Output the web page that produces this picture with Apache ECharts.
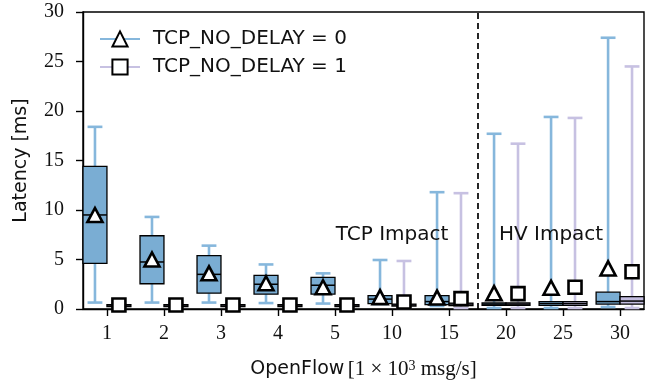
<!DOCTYPE html>
<html>
<head>
<meta charset="utf-8">
<script src="https://cdn.jsdelivr.net/npm/echarts@6/dist/echarts.min.js"></script>
<style>
  html, body { margin: 0; padding: 0; background: #fff; }
  #chart { width: 653px; height: 385px; }
</style>
</head>
<body>
<div id="chart"></div>
<script>
const categories = ['1', '2', '3', '4', '5', '10', '15', '20', '25', '30']

// TCP_NO_DELAY = 0
const nd0Low = [0.65, 0.65, 0.65, 0.6, 0.55, 0.5, 0.3, 0.1, 0.1, 0.2]
const nd0Q1 = [4.6, 2.55, 1.6, 1.5, 1.5, 0.55, 0.45, 0.38, 0.37, 0.5]
const nd0Median = [9.5, 4.75, 3.5, 2.5, 2.4, 1.0, 0.75, 0.5, 0.55, 0.75]
const nd0Q3 = [14.4, 7.4, 5.4, 3.4, 3.2, 1.35, 1.35, 0.62, 0.74, 1.7]
const nd0High = [18.4, 9.3, 6.4, 4.5, 3.6, 4.95, 11.8, 17.7, 19.4, 27.4]
const nd0Mean = [9.5, 5.0, 3.6, 2.6, 2.2, 1.2, 1.15, 1.6, 2.15, 4.1]

// TCP_NO_DELAY = 1
const nd1Low = [0.2, 0.2, 0.2, 0.2, 0.2, 0.1, 0.1, 0.1, 0.1, 0.1]
const nd1Q1 = [0.25, 0.25, 0.25, 0.25, 0.25, 0.3, 0.35, 0.38, 0.37, 0.5]
const nd1Median = [0.4, 0.4, 0.4, 0.4, 0.4, 0.4, 0.5, 0.5, 0.55, 0.8]
const nd1Q3 = [0.45, 0.45, 0.45, 0.45, 0.45, 0.5, 0.6, 0.62, 0.74, 1.25]
const nd1High = [0.5, 0.5, 0.5, 0.5, 0.5, 4.85, 11.7, 16.7, 19.3, 24.5]
const nd1Mean = [0.4, 0.4, 0.4, 0.4, 0.4, 0.7, 1.05, 1.55, 2.2, 3.77]

const BLUE_FILL = '#7aadd3'
const BLUE_LINE = '#86b7dc'
const PURPLE_FILL = '#c2bcdf'
const PURPLE_LINE = '#c7c1e2'
const SANS = 'DejaVu Sans'
const SERIF = 'Liberation Serif'
const OFFSET = 0.21
const BOX_W = 0.42

const boxData = (shift, lo, q1, med, q3, hi) =>
  categories.map((c, i) => [i + 1 + shift, lo[i], q1[i], med[i], q3[i], hi[i]])
const meanData = (shift, mean) => categories.map((c, i) => [i + 1 + shift, mean[i]])

const renderBox = (whisker, fill) => (params, api) => {
  const x = api.value(0)
  const lo = api.coord([x, api.value(1)])
  const q1 = api.coord([x, api.value(2)])
  const med = api.coord([x, api.value(3)])
  const q3 = api.coord([x, api.value(4)])
  const hi = api.coord([x, api.value(5)])
  const w = api.size([BOX_W, 0])[0]
  const cx = lo[0]
  const cap = w * 0.31
  const wStyle = { stroke: whisker, lineWidth: 2.6 }
  return {
    type: 'group',
    children: [
      { type: 'line', shape: { x1: cx, y1: q3[1], x2: cx, y2: hi[1] }, style: wStyle },
      { type: 'line', shape: { x1: cx, y1: q1[1], x2: cx, y2: lo[1] }, style: wStyle },
      { type: 'line', shape: { x1: cx - cap, y1: hi[1], x2: cx + cap, y2: hi[1] }, style: wStyle },
      { type: 'line', shape: { x1: cx - cap, y1: lo[1], x2: cx + cap, y2: lo[1] }, style: wStyle },
      {
        type: 'rect',
        shape: { x: cx - w / 2, y: q3[1], width: w, height: q1[1] - q3[1] },
        style: { fill: fill, stroke: '#000', lineWidth: 1.3 }
      },
      {
        type: 'line',
        shape: { x1: cx - w / 2, y1: med[1], x2: cx + w / 2, y2: med[1] },
        style: { stroke: '#000', lineWidth: 1.5 }
      }
    ]
  }
}

const chart = echarts.init(document.getElementById('chart'))

const option = {
  animation: false,
  backgroundColor: '#fff',
  grid: {
    left: 83,
    right: 9,
    top: 12,
    bottom: 76,
    show: true,
    borderColor: '#000',
    borderWidth: 1.4
  },
  legend: {
    orient: 'vertical',
    left: 94,
    top: 24,
    itemWidth: 40,
    itemHeight: 19,
    itemGap: 8,
    data: ['TCP_NO_DELAY = 0', 'TCP_NO_DELAY = 1'],
    textStyle: {
      fontFamily: SANS,
      fontSize: 20,
      color: '#111',
      padding: [0, 0, 0, 8]
    }
  },
  xAxis: {
    type: 'value',
    min: 0.58,
    max: 10.42,
    splitLine: { show: false },
    axisLine: { lineStyle: { color: '#000', width: 1.4 } },
    axisTick: {
      length: 7,
      lineStyle: { color: '#000', width: 1.4 },
      customValues: categories.map((c, i) => i + 1)
    },
    axisLabel: {
      customValues: categories.map((c, i) => i + 1),
      formatter: (v) => categories[Math.round(v) - 1],
      fontFamily: SERIF,
      fontSize: 20,
      color: '#111',
      margin: 15
    },
    name: '{s|OpenFlow} {m|[1 × 10}{sup|3}{m| msg/s]}',
    nameLocation: 'middle',
    nameGap: 50,
    nameTextStyle: {
      rich: {
        s: { fontFamily: SANS, fontSize: 19, color: '#111' },
        m: { fontFamily: SERIF, fontSize: 21, color: '#111' },
        sup: { fontFamily: SERIF, fontSize: 14, color: '#111', verticalAlign: 'top' }
      }
    }
  },
  yAxis: {
    type: 'value',
    min: 0,
    max: 30,
    interval: 5,
    splitLine: { show: false },
    axisLine: { show: true, lineStyle: { color: '#000', width: 1.4 } },
    axisTick: { show: true, length: 7, lineStyle: { color: '#000', width: 1.4 } },
    axisLabel: { fontFamily: SERIF, fontSize: 20, color: '#111', margin: 19 },
    name: 'Latency [ms]',
    nameLocation: 'middle',
    nameGap: 52,
    nameTextStyle: { fontFamily: SANS, fontSize: 19, color: '#111' }
  },
  series: [
    {
      name: 'box0',
      type: 'custom',
      renderItem: renderBox(BLUE_LINE, BLUE_FILL),
      encode: { x: 0, y: [1, 2, 3, 4, 5] },
      data: boxData(-OFFSET, nd0Low, nd0Q1, nd0Median, nd0Q3, nd0High),
      z: 2,
      markLine: {
        silent: true,
        symbol: ['none', 'none'],
        label: { show: false },
        lineStyle: { color: '#000', type: [6, 4], width: 1.7 },
        data: [{ xAxis: 7.5 }]
      }
    },
    {
      name: 'box1',
      type: 'custom',
      renderItem: renderBox(PURPLE_LINE, PURPLE_FILL),
      encode: { x: 0, y: [1, 2, 3, 4, 5] },
      data: boxData(OFFSET, nd1Low, nd1Q1, nd1Median, nd1Q3, nd1High),
      z: 2
    },
    {
      name: 'mean0',
      type: 'scatter',
      symbol: 'triangle',
      symbolSize: [15, 14],
      itemStyle: { color: '#fff', borderColor: '#000', borderWidth: 2.6, opacity: 1 },
      data: meanData(-OFFSET, nd0Mean),
      z: 5,
      markPoint: {
        silent: true,
        symbol: 'circle',
        symbolSize: 1,
        itemStyle: { color: 'transparent' },
        label: {
          show: true,
          position: 'inside',
          formatter: '{b}',
          fontFamily: SANS,
          fontSize: 20,
          color: '#111'
        },
        data: [
          { name: 'TCP Impact', coord: [6.0, 7.5] },
          { name: 'HV Impact', coord: [8.79, 7.5] }
        ]
      }
    },
    {
      name: 'mean1',
      type: 'scatter',
      symbol: 'rect',
      symbolSize: 13,
      itemStyle: { color: '#fff', borderColor: '#000', borderWidth: 2.6, opacity: 1 },
      data: meanData(OFFSET, nd1Mean),
      z: 5
    },
    {
      name: 'TCP_NO_DELAY = 0',
      type: 'line',
      symbol: 'triangle',
      lineStyle: { color: BLUE_LINE, width: 2 },
      itemStyle: { color: '#fff', borderColor: '#000', borderWidth: 2.6 },
      data: []
    },
    {
      name: 'TCP_NO_DELAY = 1',
      type: 'line',
      symbol: 'rect',
      lineStyle: { color: PURPLE_LINE, width: 2 },
      itemStyle: { color: '#fff', borderColor: '#000', borderWidth: 2.6 },
      data: []
    }
  ]
}

chart.setOption(option)
</script>
</body>
</html>
